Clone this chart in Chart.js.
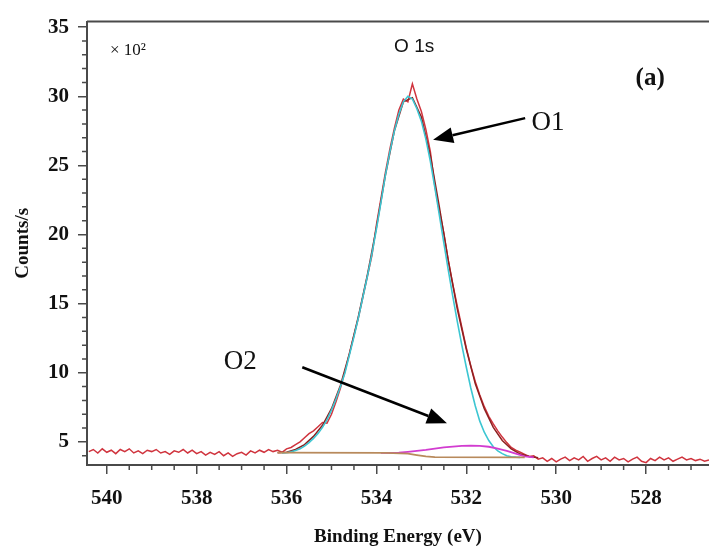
<!DOCTYPE html>
<html>
<head>
<meta charset="utf-8">
<script src="https://cdn.jsdelivr.net/npm/chart.js@4.4.1/dist/chart.umd.min.js"></script>
<style>
  body { margin: 0; background: #fff; }
  #wrap { width: 709px; height: 554px; position: relative; }
</style>
</head>
<body>
<div id="wrap"><canvas id="xpsChart"></canvas></div>
<script>
// binding energies (eV) of the measured spectrum, 0.1 eV apart
var rawEnergy = [
  540.4,540.3,540.2,540.1,540.0,539.9,539.8,539.7,539.6,539.5,
  539.4,539.3,539.2,539.1,539.0,538.9,538.8,538.7,538.6,538.5,
  538.4,538.3,538.2,538.1,538.0,537.9,537.8,537.7,537.6,537.5,
  537.4,537.3,537.2,537.1,537.0,536.9,536.8,536.7,536.6,536.5,
  536.4,536.3,536.2,536.1,536.0,535.9,535.8,535.7,535.6,535.5,
  535.4,535.3,535.2,535.1,535.0,534.9,534.8,534.7,534.6,534.5,
  534.4,534.3,534.2,534.1,534.0,533.9,533.8,533.7,533.6,533.5,
  533.4,533.3,533.2,533.1,533.0,532.9,532.8,532.7,532.6,532.5,
  532.4,532.3,532.2,532.1,532.0,531.9,531.8,531.7,531.6,531.5,
  531.4,531.3,531.2,531.1,531.0,530.9,530.8,530.7,530.6,530.5,
  530.4,530.3,530.2,530.1,530.0,529.9,529.8,529.7,529.6,529.5,
  529.4,529.3,529.2,529.1,529.0,528.9,528.8,528.7,528.6,528.5,
  528.4,528.3,528.2,528.1,528.0,527.9,527.8,527.7,527.6,527.5,
  527.4,527.3,527.2,527.1,527.0,526.9,526.8,526.7,526.6
];
// counts/s (x 10^2) of the measured spectrum
var rawCounts = [
  4.30,4.45,4.20,4.50,4.25,4.40,4.15,4.45,4.30,4.50,
  4.20,4.35,4.15,4.40,4.30,4.45,4.20,4.30,4.10,4.35,
  4.25,4.45,4.20,4.40,4.15,4.30,4.05,4.25,4.10,4.30,
  4.00,4.20,3.95,4.15,4.25,4.05,4.35,4.20,4.40,4.25,
  4.45,4.30,4.40,4.25,4.50,4.60,4.80,5.00,5.30,5.60,
  5.80,6.10,6.40,6.35,7.00,7.90,8.90,10.1,11.4,12.7,
  14.0,15.5,17.0,18.5,20.7,22.6,24.5,26.2,27.7,29.0,
  29.8,29.6,30.9,29.8,28.9,27.6,26.0,23.5,21.7,20.1,
  18.1,16.4,14.8,13.3,11.8,10.5,9.35,8.40,7.55,6.85,
  6.30,5.80,5.35,4.95,4.60,4.40,4.25,4.10,3.95,4.00,
  3.75,3.85,3.60,3.80,3.55,3.75,3.90,3.65,3.85,3.70,
  3.95,3.60,3.80,3.95,3.70,3.85,3.60,3.90,3.70,3.80,
  3.55,3.75,3.90,3.60,3.50,3.80,3.65,3.90,3.70,3.85,
  3.60,3.75,3.90,3.70,3.80,3.65,3.75,3.60,3.70
];

// O1 component (cyan)
var o1Energy = [
  536.1,536.0,535.9,535.8,535.7,535.6,535.5,535.4,535.3,535.2,
  535.1,535.0,534.9,534.8,534.7,534.6,534.5,534.4,534.3,534.2,
  534.1,534.0,533.9,533.8,533.7,533.6,533.5,533.4,533.3,533.2,
  533.1,533.0,532.9,532.8,532.7,532.6,532.5,532.4,532.3,532.2,
  532.1,532.0,531.9,531.8,531.7,531.6,531.5,531.4,531.3,531.2,
  531.1,531.0,530.9,530.8
];
var o1Counts = [
  4.20,4.22,4.28,4.38,4.50,4.70,4.95,5.25,5.60,6.05,
  6.60,7.30,8.10,9.00,10.0,11.3,12.6,14.0,15.5,17.0,
  18.6,20.4,22.3,24.3,26.0,27.5,28.7,29.6,30.0,29.8,
  29.1,28.2,26.9,25.3,23.4,21.4,19.4,17.4,15.5,13.7,
  12.0,10.4,8.90,7.60,6.50,5.70,5.10,4.65,4.35,4.15,
  4.00,3.93,3.90,3.88
];

// O2 component (magenta)
var o2Energy = [
  533.9,533.7,533.5,533.3,533.1,532.9,532.7,532.5,532.3,532.1,
  531.9,531.7,531.5,531.3,531.1,530.9,530.7,530.5
];
var o2Counts = [
  4.20,4.20,4.22,4.28,4.35,4.42,4.52,4.60,4.66,4.71,
  4.73,4.72,4.65,4.52,4.35,4.15,3.95,3.88
];

// fitted envelope (dark red)
var envEnergy = [
  536.2,536.0,535.8,535.6,535.4,535.2,535.0,534.8,534.6,534.4,
  534.2,534.0,533.8,533.6,533.4,533.2,533.0,532.8,532.6,532.4,
  532.2,532.0,531.8,531.6,531.4,531.2,531.0,530.8,530.6,530.4
];
var envCounts = [
  4.22,4.25,4.45,4.80,5.40,6.20,7.40,9.10,11.4,14.1,
  17.1,20.5,24.3,27.5,29.6,29.9,28.5,25.7,22.0,18.1,
  14.6,11.7,9.20,7.40,6.05,5.10,4.50,4.12,3.95,3.85
];

// background (tan)
var bgEnergy = [536.2, 533.8, 533.3, 533.1, 532.9, 532.7, 530.7];
var bgCounts = [4.22, 4.20, 4.15, 4.05, 3.95, 3.90, 3.88];

// axis
var xMin = 526.6, xMax = 540.44;
var yMin = 3.33, yMax = 35.4;
var xMajorStep = 2, xMinorStep = 0.5;
var yMajorStep = 5, yMinorStep = 1;

function toPoints(xs, ys) {
  return xs.map(function(v, i) { return {x: v, y: ys[i]}; });
}

var axisColor = '#4a4a4a';
var serif = '"Liberation Serif", "Times New Roman", serif';
var sans = '"Liberation Sans", Arial, sans-serif';

// text and arrows, placed in data units
var notes = [
  {text: '\u00d7 10\u00b2', x: 539.93, y: 33.3, font: '17px ' + serif, align: 'left'},
  {text: 'O 1s', x: 533.16, y: 33.55, font: '19px ' + sans, align: 'center'},
  {text: '(a)', x: 527.91, y: 31.27, font: 'bold 25px ' + serif, align: 'center'},
  {text: 'O1', x: 530.18, y: 28.06, font: '27px ' + serif, align: 'center'},
  {text: 'O2', x: 537.03, y: 10.8, font: '27px ' + serif, align: 'center'}
];
var arrows = [
  {from: [530.69, 28.42], to: [532.74, 26.85]},
  {from: [535.65, 10.4], to: [532.43, 6.35]}
];

var extras = {
  id: 'extras',
  afterDraw: function(chart) {
    var ctx = chart.ctx, area = chart.chartArea;
    var xs = chart.scales.x, ys = chart.scales.y;
    ctx.save();
    // top frame
    ctx.strokeStyle = axisColor;
    ctx.lineWidth = 2;
    ctx.beginPath();
    ctx.moveTo(area.left, area.top);
    ctx.lineTo(area.right, area.top);
    ctx.stroke();
    // minor ticks
    ctx.lineWidth = 1.5;
    ctx.beginPath();
    for (var v = 527; v <= 540; v += xMinorStep) {
      if (v % xMajorStep === 0) continue;
      var px = xs.getPixelForValue(v);
      ctx.moveTo(px, area.bottom);
      ctx.lineTo(px, area.bottom + 5);
    }
    for (var w = 4; w <= 35; w += yMinorStep) {
      if (w % yMajorStep === 0) continue;
      var py = ys.getPixelForValue(w);
      ctx.moveTo(area.left, py);
      ctx.lineTo(area.left - 5, py);
    }
    ctx.stroke();
    // notes
    ctx.fillStyle = '#111';
    ctx.textBaseline = 'middle';
    notes.forEach(function(n) {
      ctx.font = n.font;
      ctx.textAlign = n.align;
      ctx.fillText(n.text, xs.getPixelForValue(n.x), ys.getPixelForValue(n.y));
    });
    // arrows
    ctx.strokeStyle = '#000';
    ctx.fillStyle = '#000';
    ctx.lineWidth = 2.5;
    arrows.forEach(function(a) {
      var x0 = xs.getPixelForValue(a.from[0]), y0 = ys.getPixelForValue(a.from[1]);
      var x1 = xs.getPixelForValue(a.to[0]), y1 = ys.getPixelForValue(a.to[1]);
      var ang = Math.atan2(y1 - y0, x1 - x0);
      var len = 20, half = 8;
      var bx = x1 - len * Math.cos(ang), by = y1 - len * Math.sin(ang);
      ctx.beginPath();
      ctx.moveTo(x0, y0);
      ctx.lineTo(bx, by);
      ctx.stroke();
      ctx.beginPath();
      ctx.moveTo(x1, y1);
      ctx.lineTo(bx + half * Math.sin(ang), by - half * Math.cos(ang));
      ctx.lineTo(bx - half * Math.sin(ang), by + half * Math.cos(ang));
      ctx.closePath();
      ctx.fill();
    });
    ctx.restore();
  }
};

function lineSet(label, xs, ys, color, width) {
  return {
    label: label,
    data: toPoints(xs, ys),
    borderColor: color,
    borderWidth: width,
    pointRadius: 0,
    tension: 0,
    fill: false
  };
}

var ctx = document.getElementById('xpsChart');
var xpsChart = new Chart(ctx, {
  type: 'line',
  data: {
    datasets: [
      lineSet('Background', bgEnergy, bgCounts, '#b88a5c', 1.8),
      lineSet('O2', o2Energy, o2Counts, '#d23cd0', 1.8),
      lineSet('O1', o1Energy, o1Counts, '#3cc6d2', 1.6),
      lineSet('Envelope', envEnergy, envCounts, '#8e2020', 1.5),
      lineSet('O 1s', rawEnergy, rawCounts, '#d0343e', 1.5)
    ]
  },
  options: {
    responsive: true,
    maintainAspectRatio: false,
    animation: false,
    layout: { padding: { top: 15, right: 0, left: 0, bottom: 0 } },
    plugins: {
      legend: { display: false },
      tooltip: { enabled: false }
    },
    scales: {
      x: {
        type: 'linear',
        reverse: true,
        min: xMin,
        max: xMax,
        afterFit: function(scale) { scale.height = 89; },
        grid: { drawOnChartArea: false, drawTicks: true, tickLength: 9, color: axisColor, lineWidth: 1.5 },
        border: { display: true, color: axisColor, width: 2 },
        ticks: {
          stepSize: xMajorStep,
          includeBounds: false,
          autoSkip: false,
          maxRotation: 0,
          padding: 12,
          color: '#111',
          font: { family: serif, size: 21, weight: 'bold' }
        },
        title: {
          display: true,
          text: 'Binding Energy (eV)',
          color: '#111',
          font: { family: serif, size: 19, weight: 'bold' },
          padding: { top: 0, bottom: 6 }
        }
      },
      y: {
        type: 'linear',
        min: yMin,
        max: yMax,
        afterFit: function(scale) { scale.width = 87; },
        grid: { drawOnChartArea: false, drawTicks: true, tickLength: 9, color: axisColor, lineWidth: 1.5 },
        border: { display: true, color: axisColor, width: 2 },
        ticks: {
          stepSize: yMajorStep,
          includeBounds: false,
          padding: 9,
          color: '#111',
          font: { family: serif, size: 21, weight: 'bold' }
        },
        title: {
          display: true,
          text: 'Counts/s',
          color: '#111',
          font: { family: serif, size: 19, weight: 'bold' },
          padding: { top: 12, bottom: 0 }
        }
      }
    }
  },
  plugins: [extras]
});
</script>
</body>
</html>
